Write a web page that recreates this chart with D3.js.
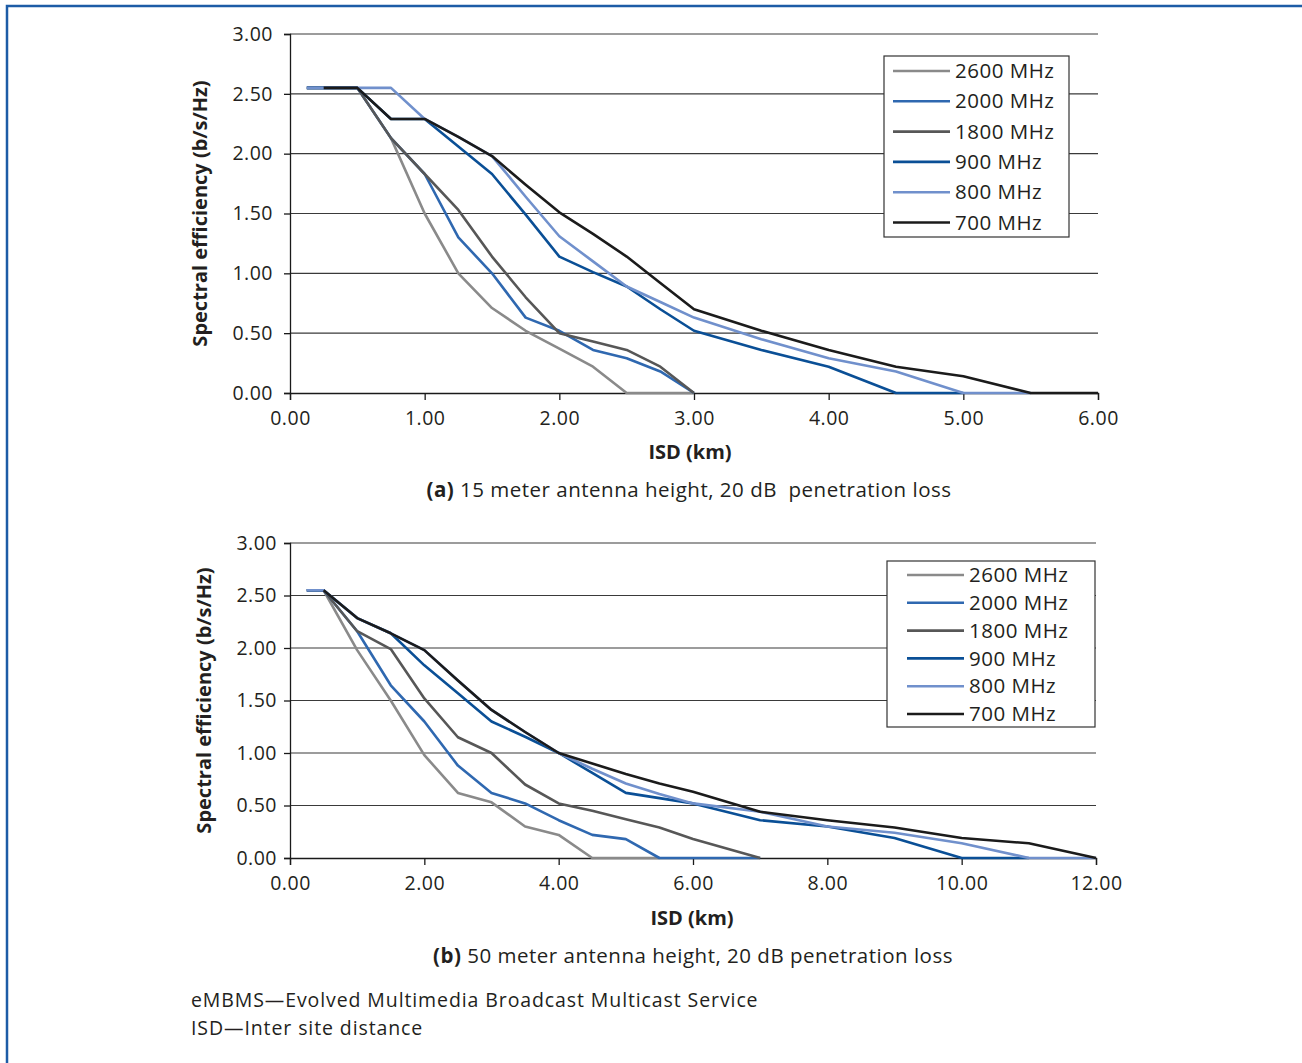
<!DOCTYPE html>
<html>
<head>
<meta charset="utf-8">
<script src="https://cdn.jsdelivr.net/npm/d3@7"></script>
<style>
  body { margin: 0; background: #fff; }
  svg text { font-family: "Open Sans", "Noto Sans", sans-serif; fill: #231f20; }
</style>
</head>
<body>
<svg id="fig" width="1302" height="1063"></svg>
<script>
// series names, in legend order (later ones drawn on top)
const freqs = ["2600 MHz", "2000 MHz", "1800 MHz", "900 MHz", "800 MHz", "700 MHz"];
const lineColors = ["#8a8a8a", "#2f68b0", "#575757", "#0a4f96", "#7090cc", "#1b1b1b"];

// (a) 15 m antenna height
const isdA = [0.125, 0.25, 0.5, 0.75, 1.0, 1.25, 1.5, 1.75, 2.0, 2.25, 2.5, 2.75, 3.0, 3.5, 4.0, 4.5, 5.0, 5.5, 6.0];
const effA2600 = [2.55, 2.55, 2.55, 2.13, 1.50, 1.00, 0.71, 0.52, 0.37, 0.22, 0, 0, 0, null, null, null, null, null, null];
const effA2000 = [2.55, 2.55, 2.55, 2.13, 1.83, 1.30, 1.00, 0.63, 0.52, 0.36, 0.29, 0.18, 0, null, null, null, null, null, null];
const effA1800 = [2.55, 2.55, 2.55, 2.13, 1.83, 1.53, 1.14, 0.80, 0.50, 0.43, 0.36, 0.22, 0, null, null, null, null, null, null];
const effA900  = [2.55, 2.55, 2.55, 2.29, 2.29, 2.06, 1.83, 1.49, 1.14, 1.01, 0.89, 0.70, 0.52, 0.36, 0.22, 0, 0, null, null];
const effA800  = [2.55, 2.55, 2.55, 2.55, 2.29, 2.14, 1.98, 1.64, 1.31, 1.10, 0.89, 0.76, 0.63, 0.45, 0.29, 0.18, 0, 0, null];
const effA700  = [null, 2.55, 2.55, 2.29, 2.29, 2.14, 1.98, 1.74, 1.51, 1.33, 1.14, 0.92, 0.70, 0.52, 0.36, 0.22, 0.14, 0, 0];

// (b) 50 m antenna height
const isdB = [0.25, 0.5, 1.0, 1.5, 2.0, 2.5, 3.0, 3.5, 4.0, 4.5, 5.0, 5.5, 6.0, 7.0, 8.0, 9.0, 10.0, 11.0, 12.0];
const effB2600 = [2.55, 2.55, 1.98, 1.50, 0.98, 0.62, 0.53, 0.30, 0.22, 0, 0, 0, null, null, null, null, null, null, null];
const effB2000 = [2.55, 2.55, 2.16, 1.645, 1.30, 0.88, 0.62, 0.52, 0.36, 0.22, 0.18, 0, 0, 0, null, null, null, null, null];
const effB1800 = [2.55, 2.55, 2.16, 1.99, 1.52, 1.15, 1.00, 0.70, 0.52, 0.45, 0.37, 0.29, 0.18, 0, null, null, null, null, null];
const effB900  = [2.55, 2.55, 2.285, 2.14, 1.835, 1.57, 1.30, 1.155, 1.00, 0.81, 0.62, 0.57, 0.52, 0.36, 0.30, 0.19, 0, 0, null];
const effB800  = [2.55, 2.55, 2.285, 2.14, 1.98, 1.69, 1.41, 1.20, 1.00, 0.85, 0.71, 0.61, 0.52, 0.44, 0.30, 0.24, 0.14, 0, 0];
const effB700  = [null, 2.55, 2.285, 2.14, 1.98, 1.69, 1.41, 1.20, 1.00, 0.90, 0.80, 0.71, 0.63, 0.44, 0.36, 0.29, 0.19, 0.14, 0];

const yTicks = [0, 0.5, 1, 1.5, 2, 2.5, 3];
const xTicksA = [0, 1, 2, 3, 4, 5, 6];
const xTicksB = [0, 2, 4, 6, 8, 10, 12];

const yTitle = "Spectral efficiency (b/s/Hz)";
const xTitle = "ISD (km)";
const notes = ["eMBMS\u2014Evolved Multimedia Broadcast Multicast Service", "ISD\u2014Inter site distance"];

const svg = d3.select("#fig");

// blue frame on top and left
svg.append("path")
    .attr("d", "M7,1063 V6 H1302")
    .attr("fill", "none")
    .attr("stroke", "#1d5ca6")
    .attr("stroke-width", 2.5);

function drawPanel(p) {
    const x = d3.scaleLinear().domain([0, p.xMax]).range([p.left, p.right]);
    const y = d3.scaleLinear().domain([0, 3]).range([p.bottom, p.top]);
    const g = svg.append("g");

    // gridlines
    g.append("g").selectAll("line")
        .data(yTicks.filter(d => d > 0)).enter().append("line")
        .attr("x1", p.left).attr("x2", p.right)
        .attr("y1", d => y(d)).attr("y2", d => y(d))
        .attr("stroke", "#3a3a3a")
        .attr("stroke-width", 1.2);

    const yAxis = g.append("g")
        .attr("transform", `translate(${p.left},0)`)
        .call(d3.axisLeft(y).tickValues(yTicks).tickFormat(d3.format(".2f")).tickSize(6).tickPadding(p.yPad));
    const xAxis = g.append("g")
        .attr("transform", `translate(0,${p.bottom})`)
        .call(d3.axisBottom(x).tickValues(p.xTicks).tickFormat(d3.format(".2f")).tickSize(7).tickPadding(11));
    [yAxis, xAxis].forEach(a => {
        a.selectAll("path, line").attr("stroke", "#1a1a1a").attr("stroke-width", 1.3);
        a.selectAll("text").style("font-size", "19.5px").style("letter-spacing", "0.5px").attr("fill", "#231f20");
        a.attr("font-family", null);
    });

    // series lines
    const line = d3.line()
        .defined(d => d.v !== null)
        .x(d => x(d.x))
        .y(d => y(d.v));
    p.series.forEach((vals, i) => {
        const pts = p.isd.map((xv, j) => ({x: xv, v: vals[j]}));
        g.append("path")
            .datum(pts)
            .attr("fill", "none")
            .attr("stroke", lineColors[i])
            .attr("stroke-width", 2.6)
            .attr("stroke-linejoin", "round")
            .attr("d", line);
    });

    // legend
    const lg = g.append("g");
    lg.append("rect")
        .attr("x", p.leg.x).attr("y", p.leg.y)
        .attr("width", p.leg.w).attr("height", p.leg.h)
        .attr("fill", "#fff").attr("stroke", "#333").attr("stroke-width", 1.2);
    freqs.forEach((f, i) => {
        const ry = p.leg.row0 + i * p.leg.step;
        lg.append("line")
            .attr("x1", p.leg.lx1).attr("x2", p.leg.lx2)
            .attr("y1", ry).attr("y2", ry)
            .attr("stroke", lineColors[i]).attr("stroke-width", 2.6);
        lg.append("text")
            .attr("x", p.leg.tx).attr("y", ry)
            .attr("dy", "0.35em")
            .style("font-size", "20.5px")
            .style("letter-spacing", "0.5px")
            .text(f);
    });

    // axis titles
    g.append("text")
        .attr("transform", `translate(${p.yTitleX},${(p.top + p.bottom) / 2}) rotate(-90)`)
        .attr("text-anchor", "middle")
        .style("font-size", "20px").style("font-weight", "bold")
        .text(yTitle);
    g.append("text")
        .attr("x", p.xTitleX).attr("y", p.xTitleY)
        .attr("text-anchor", "middle")
        .style("font-size", "20px").style("font-weight", "bold")
        .text(xTitle);

    // caption
    const cap = g.append("text")
        .attr("x", p.capX).attr("y", p.capY)
        .attr("text-anchor", "middle")
        .attr("xml:space", "preserve")
        .style("white-space", "pre")
        .style("font-size", "20.5px")
        .style("letter-spacing", "0.5px");
    cap.append("tspan").style("font-weight", "bold").text(p.capTag);
    cap.append("tspan").text(p.capText);
}

drawPanel({
    left: 290, right: 1098, top: 34, bottom: 393, xMax: 6, xTicks: xTicksA, yPad: 11,
    isd: isdA, series: [effA2600, effA2000, effA1800, effA900, effA800, effA700],
    leg: {x: 884, y: 56, w: 185, h: 181, row0: 71, step: 30.3, lx1: 893, lx2: 950, tx: 955},
    yTitleX: 207, xTitleX: 690, xTitleY: 459,
    capX: 689, capY: 497, capTag: "(a)", capText: " 15 meter antenna height, 20 dB  penetration loss"
});

drawPanel({
    left: 290, right: 1096, top: 543, bottom: 858, xMax: 12, xTicks: xTicksB, yPad: 7,
    isd: isdB, series: [effB2600, effB2000, effB1800, effB900, effB800, effB700],
    leg: {x: 887, y: 561, w: 208, h: 166, row0: 575, step: 27.8, lx1: 907, lx2: 964, tx: 969},
    yTitleX: 211, xTitleX: 692, xTitleY: 925,
    capX: 693, capY: 963, capTag: "(b)", capText: " 50 meter antenna height, 20 dB penetration loss"
});

// footnotes
svg.append("g").selectAll("text")
    .data(notes).enter().append("text")
    .attr("x", 191)
    .attr("y", (d, i) => 1007 + i * 28)
    .style("font-size", "19.5px")
    .style("letter-spacing", "0.9px")
    .text(d => d);
</script>
</body>
</html>
